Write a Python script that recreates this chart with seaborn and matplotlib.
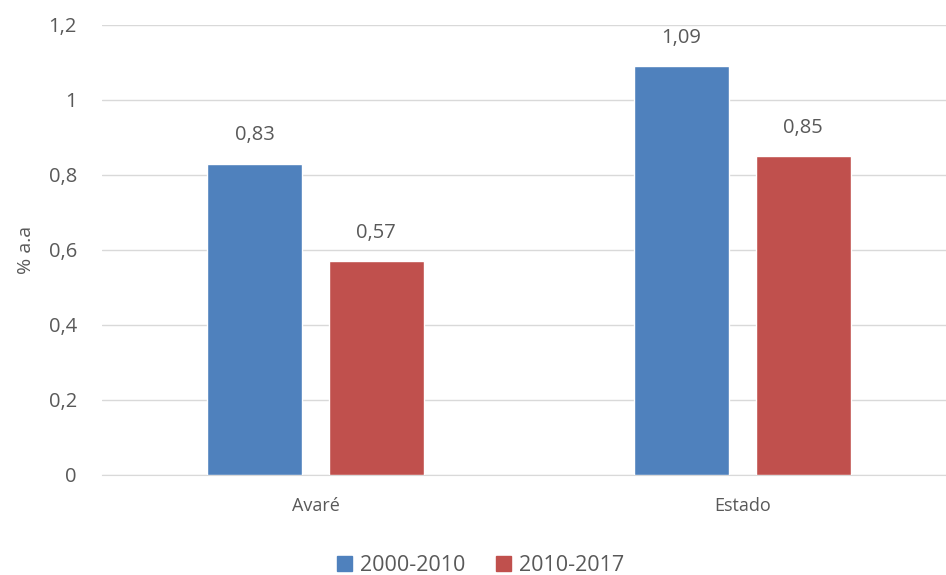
import pandas as pd
import matplotlib
matplotlib.use('Agg')
import matplotlib.pyplot as plt
import seaborn as sns

# data
categories = ['Avaré', 'Estado']
periods = ['2000-2010', '2010-2017']
values_2000_2010 = [0.83, 1.09]
values_2010_2017 = [0.57, 0.85]
colors = ['#4F81BD', '#C0504D']

TEXT = '#595959'


def fmt(v):
    return f'{v:.2f}'.replace('.', ',')


def main():
    df = pd.DataFrame({
        'Local': categories * 2,
        'Periodo': [periods[0]] * 2 + [periods[1]] * 2,
        'Valor': values_2000_2010 + values_2010_2017,
    })

    sns.set_style('white')
    plt.rcParams['font.family'] = ['Open Sans', 'DejaVu Sans']

    fig = plt.figure(figsize=(9.46, 5.75), dpi=100)
    # plot area runs past the right edge, as in the cropped original
    ax = fig.add_axes([0.1078, 0.174, 0.9027, 0.783])

    sns.barplot(data=df, x='Local', y='Valor', hue='Periodo',
                hue_order=periods, palette=colors, width=0.57, gap=0.215,
                saturation=1, ax=ax, legend=False, zorder=3)

    for container in ax.containers:
        labels = [fmt(b.get_height()) for b in container]
        ax.bar_label(container, labels=labels, padding=13, fontsize=14.5, color=TEXT)

    ax.set_xlim(-0.5, 1.5)
    ax.set_ylim(0, 1.2)
    ax.set_yticks([0, 0.2, 0.4, 0.6, 0.8, 1.0, 1.2])
    ax.set_yticklabels(['0', '0,2', '0,4', '0,6', '0,8', '1', '1,2'])
    ax.yaxis.grid(True, color='#D9D9D9', linewidth=1, zorder=0)
    ax.tick_params(axis='both', length=0, colors=TEXT)
    ax.tick_params(axis='y', pad=18, labelsize=14.5)
    ax.tick_params(axis='x', pad=16, labelsize=13)
    for s in ['top', 'right', 'left']:
        ax.spines[s].set_visible(False)
    ax.spines['bottom'].set_color('#D9D9D9')
    ax.set_xlabel('')
    ax.set_ylabel('% a.a', fontsize=14, color=TEXT, labelpad=10)

    handles = [plt.Rectangle((0, 0), 1, 1, color=c) for c in colors]
    fig.legend(handles, periods, loc='lower center', ncol=2, frameon=False,
               fontsize=15.5, labelcolor=TEXT, handlelength=0.7, handleheight=0.7,
               handletextpad=0.4, columnspacing=1.4, bbox_to_anchor=(0.508, -0.035))

    fig.savefig('out.png', dpi=100)


if __name__ == '__main__': main()
